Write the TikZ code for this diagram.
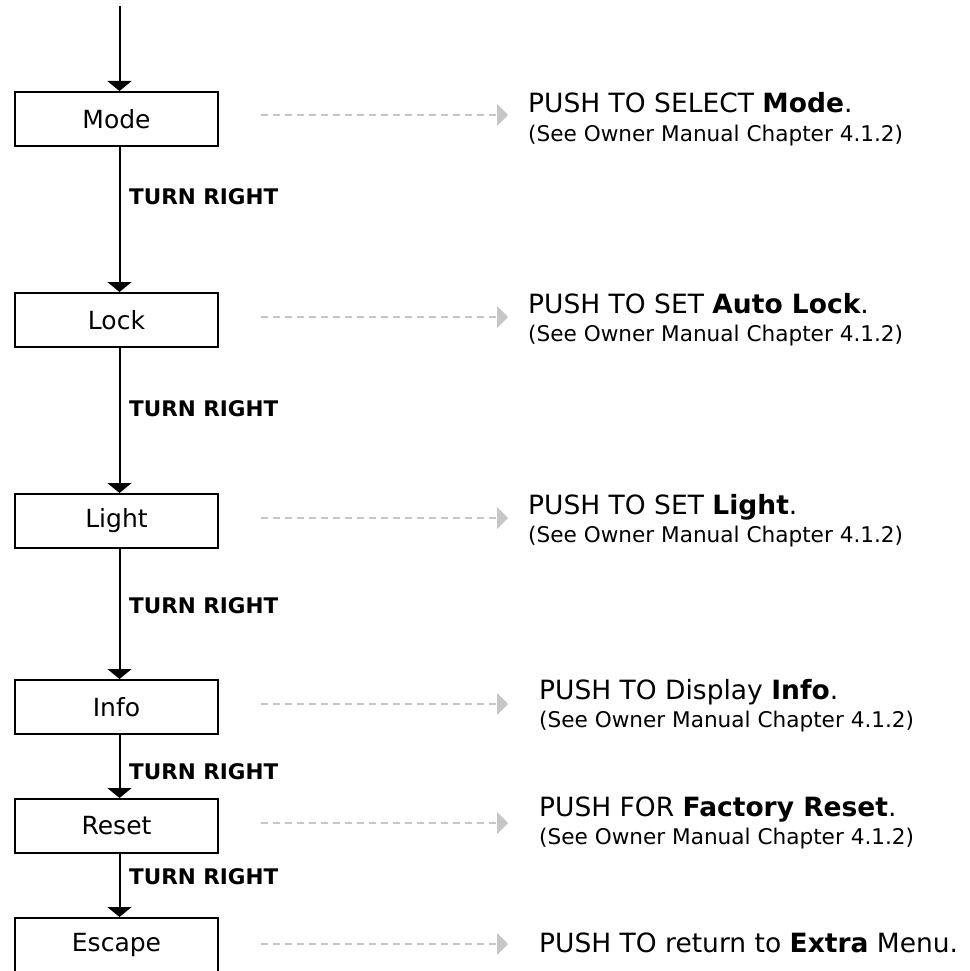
\documentclass[tikz,border=0pt]{standalone}
\usepackage{fontspec}
\setmainfont{DejaVu Sans}
\usetikzlibrary{arrows.meta}
\begin{document}
\begin{tikzpicture}[x=1pt,y=-1pt,
  menubox/.style={draw,line width=2pt,minimum width=203pt,minimum height=54pt,inner sep=0pt,font=\fontsize{25}{30}\selectfont},
  flow/.style={line width=2pt,-{Triangle[width=24pt,length=10pt]}},
  push/.style={draw=gray!45,line width=2pt,dash pattern=on 7pt off 5pt,-{Triangle[width=22pt,length=11pt,fill=gray!45]}},
  turnlbl/.style={anchor=west,inner sep=0pt,font=\bfseries\fontsize{21.5}{25}\selectfont},
  mainline/.style={anchor=base west,inner sep=0pt,font=\fontsize{26.5}{30}\selectfont},
  subline/.style={anchor=base west,inner sep=0pt,font=\fontsize{21.6}{26}\selectfont}]
\useasboundingbox (0,0) rectangle (969,971);

% boxes
\node[menubox] (mode)   at (116.5,119) {Mode};
\node[menubox] (lock)   at (116.5,320) {Lock};
\node[menubox] (light)  at (116.5,521) {Light};
\node[menubox] (info)   at (116.5,707) {Info};
\node[menubox] (reset)  at (116.5,826) {Reset};
\node[menubox] (escape) at (116.5,945) {Escape};

% flow arrows (the spine runs a little right of the box centres)
\coordinate (start) at (119.5,6);
\draw[flow] (start) -- ([xshift=3pt]mode.north);
\draw[flow] ([xshift=3pt]mode.south) -- ([xshift=3pt]lock.north);
\draw[flow] ([xshift=3pt]lock.south) -- ([xshift=3pt]light.north);
\draw[flow] ([xshift=3pt]light.south) -- ([xshift=3pt]info.north);
\draw[flow] ([xshift=3pt]info.south) -- ([xshift=3pt]reset.north);
\draw[flow] ([xshift=3pt]reset.south) -- ([xshift=3pt]escape.north);

% turn labels
\node[turnlbl] (t1) at (129,197) {TURN RIGHT};
\node[turnlbl] (t2) at (129,409) {TURN RIGHT};
\node[turnlbl] (t3) at (129,606) {TURN RIGHT};
\node[turnlbl] (t4) at (129,772) {TURN RIGHT};
\node[turnlbl] (t5) at (129,877) {TURN RIGHT};

% dashed push arrows
\coordinate (modeA) at (261,115);   \coordinate (modeB) at (508,115);
\coordinate (lockA) at (261,317);   \coordinate (lockB) at (508,317);
\coordinate (lightA) at (261,518);  \coordinate (lightB) at (508,518);
\coordinate (infoA) at (261,704);   \coordinate (infoB) at (508,704);
\coordinate (resetA) at (261,823);  \coordinate (resetB) at (508,823);
\coordinate (escA) at (261,944);    \coordinate (escB) at (508,944);
\draw[push] (modeA) -- (modeB);
\draw[push] (lockA) -- (lockB);
\draw[push] (lightA) -- (lightB);
\draw[push] (infoA) -- (infoB);
\draw[push] (resetA) -- (resetB);
\draw[push] (escA) -- (escB);

% right texts
\node[mainline] (modeT1) at (528,113) {PUSH TO SELECT \textbf{Mode}.};
\node[subline]  (modeT2) at (528,141) {(See Owner Manual Chapter 4.1.2)};
\node[mainline] (lockT1) at (528,313) {PUSH TO SET \textbf{Auto Lock}.};
\node[subline]  (lockT2) at (528,341) {(See Owner Manual Chapter 4.1.2)};
\node[mainline] (lightT1) at (528,514) {PUSH TO SET \textbf{Light}.};
\node[subline]  (lightT2) at (528,542) {(See Owner Manual Chapter 4.1.2)};
\node[mainline] (infoT1) at (539,699) {PUSH TO Display \textbf{Info}.};
\node[subline]  (infoT2) at (539,727) {(See Owner Manual Chapter 4.1.2)};
\node[mainline] (resetT1) at (539,816) {PUSH FOR \textbf{Factory Reset}.};
\node[subline]  (resetT2) at (539,844) {(See Owner Manual Chapter 4.1.2)};
\node[mainline] (escT1) at (539,952) {PUSH TO return to \textbf{Extra} Menu.};
\end{tikzpicture}
\end{document}
